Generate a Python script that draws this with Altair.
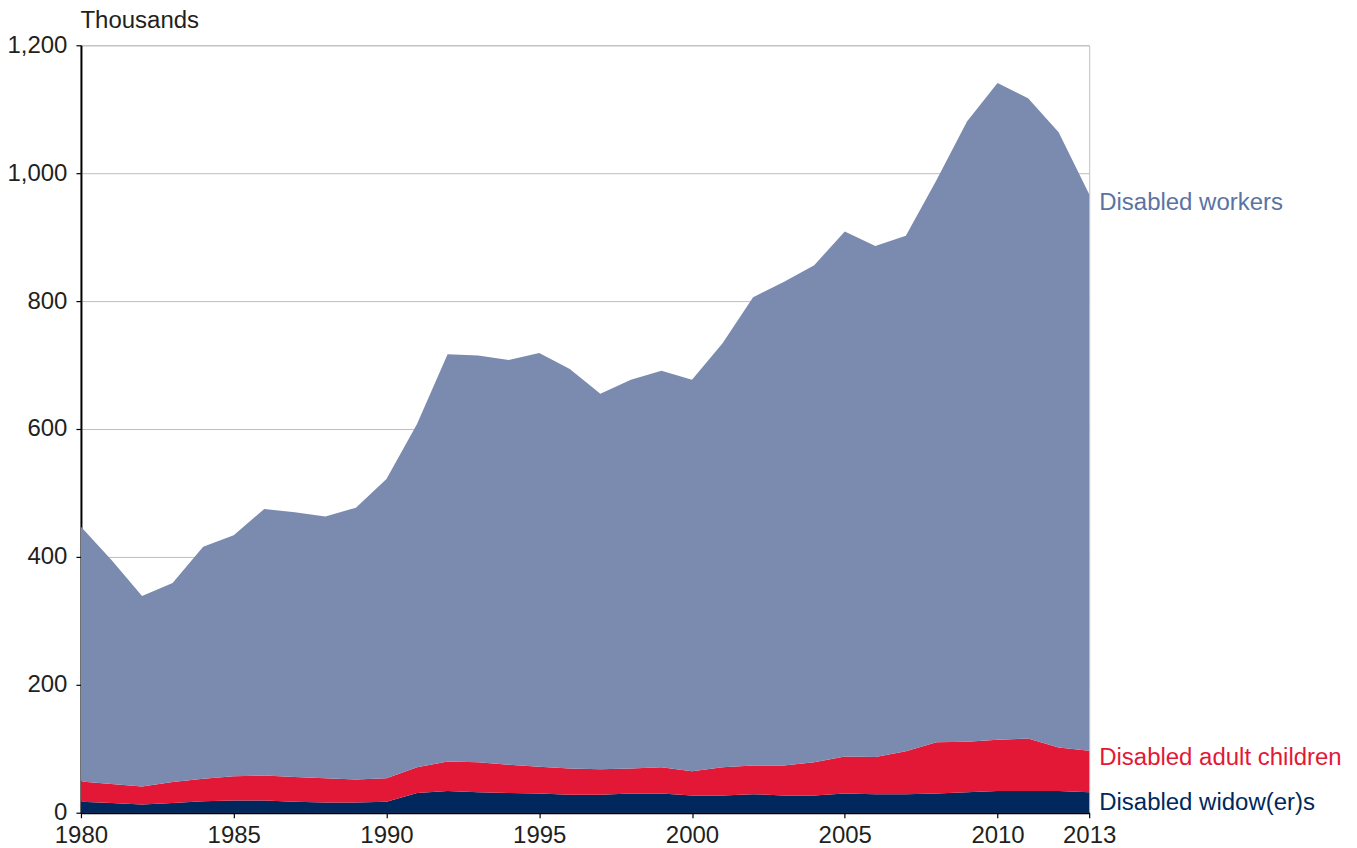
import altair as alt
import pandas as pd

years = list(range(1980, 2014))
widows = [17, 15, 13, 15, 18, 19, 19, 17, 16, 16,
          17, 31, 34, 32, 31, 30, 28, 28, 30, 30,
          27, 27, 29, 27, 27, 30, 29, 29, 30, 32,
          34, 34, 34, 32]
adult_children = [32, 30, 28, 33, 35, 38, 39, 39, 38, 36,
                  37, 40, 46, 47, 44, 42, 41, 40, 39, 41,
                  38, 44, 45, 47, 52, 58, 58, 67, 80, 79,
                  80, 82, 68, 65]
workers = [398, 350, 298, 311, 363, 377, 417, 414, 409, 425,
           468, 537, 637, 636, 633, 647, 625, 587, 608, 620,
           612, 663, 732, 756, 777, 821, 799, 806, 879, 970,
           1027, 1001, 962, 870]

series_names = ["Disabled widow(er)s", "Disabled adult children", "Disabled workers"]
series_colors = ["#00285C", "#E31837", "#7A8BAF"]
label_colors = ["#00285C", "#E31837", "#5B73A3"]
y_ticks = [0, 200, 400, 600, 800, 1000, 1200]
x_ticks = [1980, 1985, 1990, 1995, 2000, 2005, 2010, 2013]

FONT = "Liberation Sans"
FS = 24

rows = []
for i, y in enumerate(years):
    for k, (name, vals) in enumerate(zip(series_names, [widows, adult_children, workers])):
        rows.append({"year": y, "series": name, "value": vals[i], "order": k})
df = pd.DataFrame(rows)

# label anchors: top of each stacked band in the last year
last = len(years) - 1
tops = [widows[last],
        widows[last] + adult_children[last],
        widows[last] + adult_children[last] + workers[last]]
lab_df = pd.DataFrame({"year": [years[last]] * 3, "top": tops,
                       "label": series_names, "color": label_colors})

x_scale = alt.Scale(domain=[years[0], years[-1]], nice=False, zero=False)
y_scale = alt.Scale(domain=[0, 1200], nice=False)

area = alt.Chart(df).mark_area(opacity=1, interpolate="linear").encode(
    x=alt.X("year:Q", scale=x_scale,
            axis=alt.Axis(values=x_ticks, format="d", title=None, grid=False,
                          labelFlush=False, labelOverlap=False,
                          labelPadding=6)),
    y=alt.Y("value:Q", stack="zero", scale=y_scale,
            axis=alt.Axis(values=y_ticks, format=",.0f", title="Thousands",
                          titleAngle=0, titleAlign="left", titleBaseline="alphabetic",
                          titleX=-1, titleY=-18, grid=True, labelPadding=9)),
    color=alt.Color("series:N", scale=alt.Scale(domain=series_names, range=series_colors),
                    legend=None),
    order=alt.Order("order:Q"),
)

dys = [11, 7, 9]
texts = []
for i in range(3):
    t = alt.Chart(lab_df.iloc[[i]]).mark_text(
        align="left", baseline="middle", dx=10, dy=dys[i],
        fontSize=FS, font=FONT, color=label_colors[i]
    ).encode(
        x=alt.X("year:Q", scale=x_scale),
        y=alt.Y("top:Q", scale=y_scale),
        text="label:N",
    )
    texts.append(t)

chart = alt.layer(area, *texts).properties(
    width=1009, height=768,
    autosize=alt.AutoSizeParams(type="none"),
    padding={"left": 73, "top": 37, "right": 260, "bottom": 34},
).configure_view(
    stroke="#BFBFBF", strokeWidth=1
).configure_axis(
    labelFont=FONT, titleFont=FONT, labelFontSize=FS, titleFontSize=FS,
    titleFontWeight="normal", labelColor="#231F20", titleColor="#231F20",
    domainColor="#000000", domainWidth=2, tickColor="#000000", tickSize=5,
    tickWidth=1.2, gridColor="#BFBFBF", gridWidth=1
)

chart.save("out.html", embed_options={"renderer": "svg", "actions": False})
